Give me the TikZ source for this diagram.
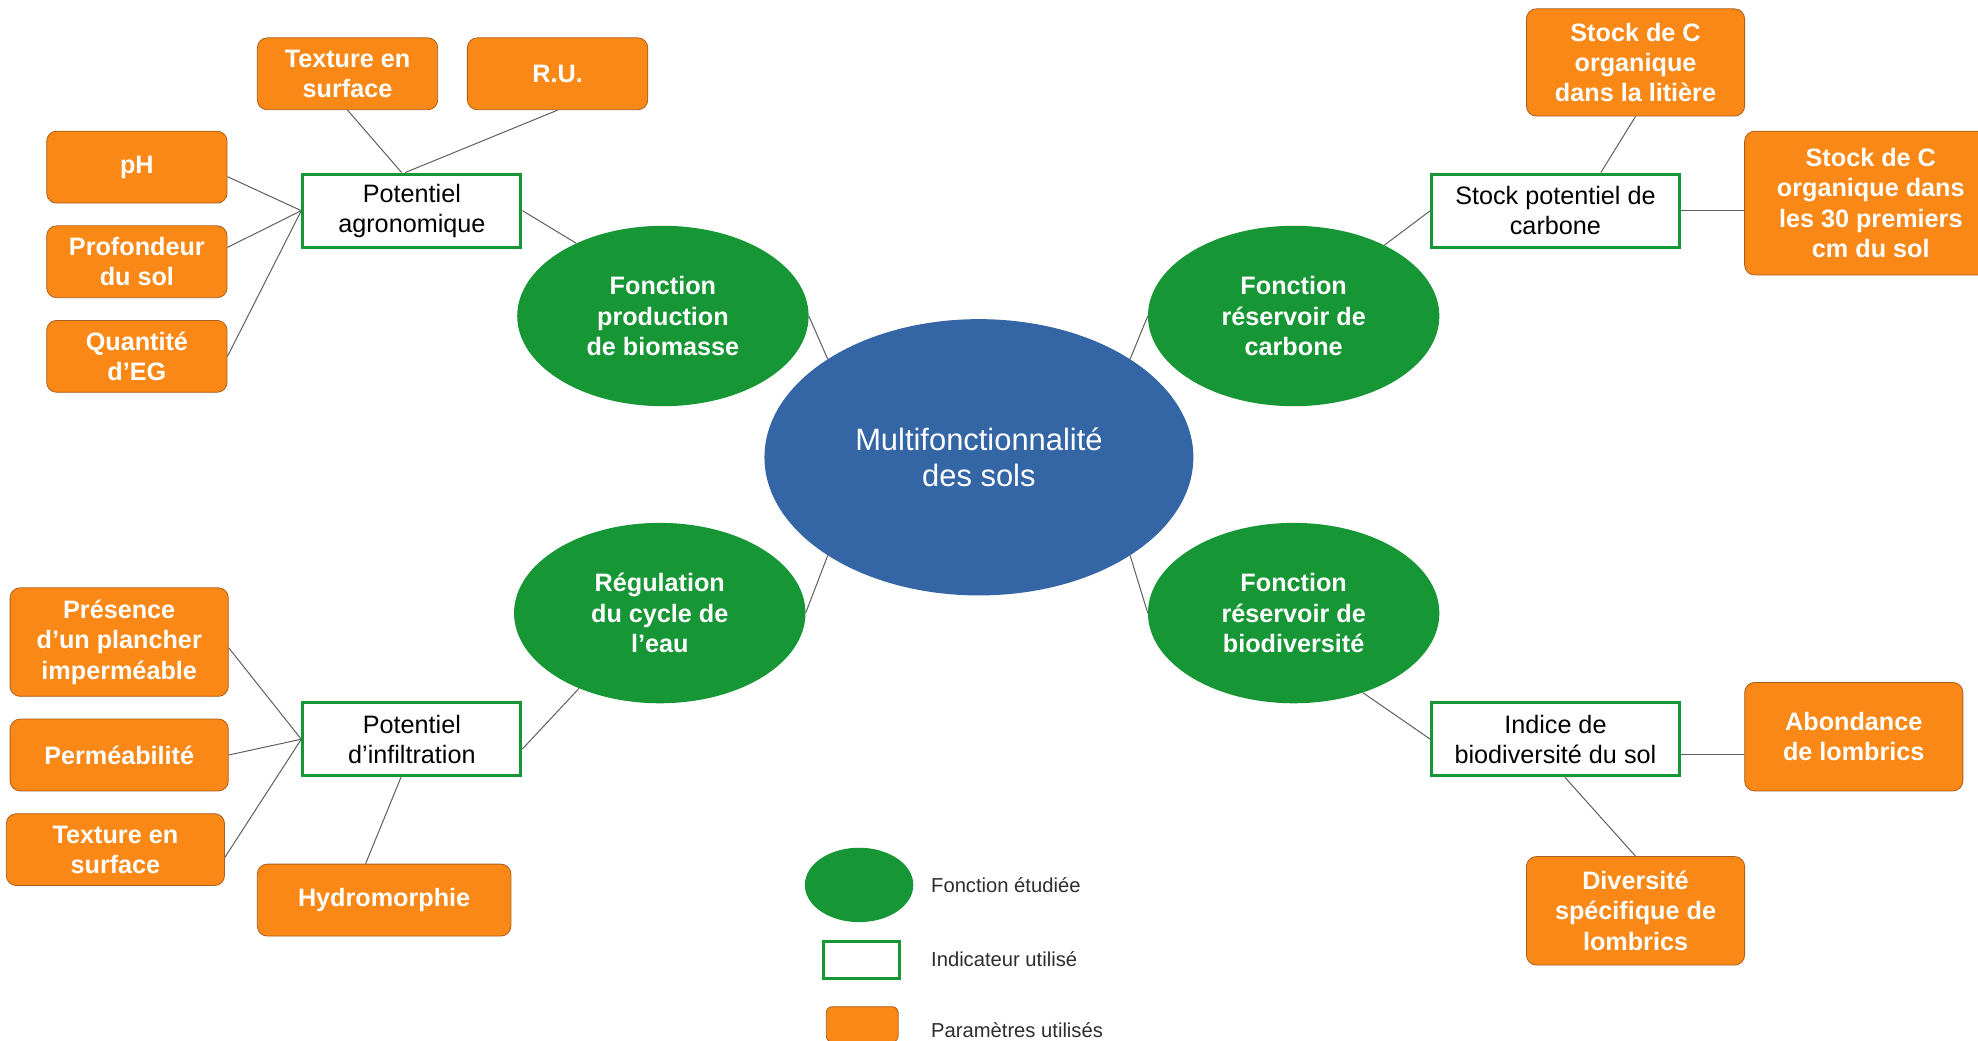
\documentclass[tikz,border=0pt]{standalone}
\usepackage{fontspec}
\setmainfont{Liberation Sans}
\usetikzlibrary{shapes.geometric}
\definecolor{orangeP}{RGB}{250,136,22}
\definecolor{orangeD}{RGB}{170,95,30}
\definecolor{greenF}{RGB}{22,150,52}
\definecolor{blueC}{RGB}{52,101,164}
\definecolor{lineC}{RGB}{95,95,95}
\definecolor{legT}{RGB}{45,45,45}
\begin{document}
\begin{tikzpicture}[x=1.2615pt,y=-1.2615pt,
  param/.style={rectangle, rounded corners=10pt, fill=orangeP, draw=orangeD, line width=0.8pt, text=white,
    font=\bfseries\fontsize{25.2}{30.3}\selectfont, align=center, inner sep=2pt},
  indic/.style={rectangle, draw=greenF, line width=3pt, fill=white, text=black,
    font=\fontsize{25.2}{30.3}\selectfont, align=center, inner sep=2pt, minimum height=73.2pt},
  fonc/.style={ellipse, fill=greenF, text=white, font=\bfseries\fontsize{25.2}{30.6}\selectfont,
    align=center, inner sep=0pt, minimum width=291.4pt, minimum height=180.4pt},
  cen/.style={ellipse, fill=blueC, text=white, font=\fontsize{30.9}{36.6}\selectfont,
    align=center, inner sep=0pt, minimum width=428.9pt, minimum height=276.3pt},
  link/.style={draw=lineC, line width=1pt},
  legtext/.style={anchor=west, text=legT, font=\fontsize{20.2}{24}\selectfont, inner sep=0pt}
]
\useasboundingbox[fill=white] (0,0) rectangle (1568,825);

% central and function nodes
\node[cen] (center) at (776,362.5) {Multifonctionnalité\\des sols};
\node[fonc] (bio) at (525.5,250.5) {Fonction\\production\\de biomasse};
\node[fonc] (carb) at (1025.5,250.5) {Fonction\\réservoir de\\carbone};
\node[fonc] (reg) at (523,486) {Régulation\\du cycle de\\l’eau};
\node[fonc] (biod) at (1025.5,486) {Fonction\\réservoir de\\biodiversité};

% indicators
\node[indic, minimum width=218.2pt] (agro) at (326.5,167) {Potentiel\\agronomique};
\node[indic, minimum width=247.3pt] (stockpot) at (1233,167) {Stock potentiel de\\carbone};
\node[indic, minimum width=218.2pt] (potinf) at (326.5,586) {Potentiel\\d’infiltration};
\node[indic, minimum width=247.3pt] (ind) at (1233,586) {Indice de\\biodiversité du sol};

% parameters
\node[param, minimum width=180.4pt, minimum height=71.9pt] (texT) at (275.5,58.5) {Texture en\\surface};
\node[param, minimum width=180.4pt, minimum height=71.9pt] (ru) at (442,58.5) {R.U.};
\node[param, minimum width=180.4pt, minimum height=71.9pt] (ph) at (108.5,132.5) {pH};
\node[param, minimum width=180.4pt, minimum height=71.9pt] (prof) at (108.5,207.5) {Profondeur\\du sol};
\node[param, minimum width=180.4pt, minimum height=71.9pt] (qte) at (108.5,282.5) {Quantité\\d’EG};
\node[param, minimum width=218.2pt, minimum height=107.2pt] (lit) at (1296.5,49.5) {Stock de C\\organique\\dans la litière};
\node[param, minimum width=252.3pt, minimum height=143.8pt] (sol30) at (1483,161) {Stock de C\\organique dans\\les 30 premiers\\cm du sol};
\node[param, minimum width=218.2pt, minimum height=108.5pt] (pres) at (94.5,509) {Présence\\d’un plancher\\imperméable};
\node[param, minimum width=218.2pt, minimum height=71.9pt] (perm) at (94.5,598.5) {Perméabilité};
\node[param, minimum width=218.2pt, minimum height=71.9pt] (texB) at (91.5,673.5) {Texture en\\surface};
\node[param, minimum width=253.6pt, minimum height=71.9pt] (hyd) at (304.5,713.5) {Hydromorphie};
\node[param, minimum width=218.2pt, minimum height=108.5pt] (ab) at (1469.5,584) {Abondance\\de lombrics};
\node[param, minimum width=218.2pt, minimum height=108.5pt] (div) at (1296.5,722) {Diversité\\spécifique de\\lombrics};

% connectors
\draw[link] (texT.south) -- (agro.105);
\draw[link] (ru.south) -- (agro.100);
\draw[link] (ph.-6) -- (agro.west);
\draw[link] (prof.9) -- (agro.west);
\draw[link] (qte.east) -- (agro.west);
\draw[link] (agro.east) -- (bio.140);
\draw[link] (bio.east) -- (center.147);
\draw[link] (carb.west) -- (center.33);
\draw[link] (carb.38) -- (stockpot.west);
\draw[link] (lit.south) -- (stockpot.40);
\draw[link] (stockpot.east) -- (stockpot.east -| sol30.west);
\draw[link] (reg.east) -- (center.213);
\draw[link] (reg.223) -- (potinf.-5);
\draw[link] (pres.-3) -- (potinf.west);
\draw[link] (perm.east) -- (potinf.west);
\draw[link] (texB.-4) -- (potinf.west);
\draw[link] (hyd.117) -- (potinf.254);
\draw[link] (biod.west) -- (center.327);
\draw[link] (biod.-49) -- (ind.west);
\draw[link] (ind.-7) -- (ind.-7 -| ab.west);
\draw[link] (ind.-76) -- (div.north);

% legend
\node[ellipse, fill=greenF, minimum width=108.5pt, minimum height=74.4pt, inner sep=0pt] (lgE) at (681,701.5) {};
\node[rectangle, draw=greenF, line width=3pt, fill=white, minimum width=75.7pt, minimum height=37.8pt, inner sep=0pt] (lgR) at (683,761) {};
\node[rectangle, rounded corners=6pt, fill=orangeP, draw=orangeD, line width=0.8pt, minimum width=71.9pt, minimum height=35.3pt, inner sep=0pt] (lgO) at (683.5,812) {};
\node[legtext] (lgEt) at (738,702) {Fonction étudiée};
\node[legtext] (lgRt) at (738,760) {Indicateur utilisé};
\node[legtext] (lgOt) at (738,817) {Paramètres utilisés};
\end{tikzpicture}
\end{document}
